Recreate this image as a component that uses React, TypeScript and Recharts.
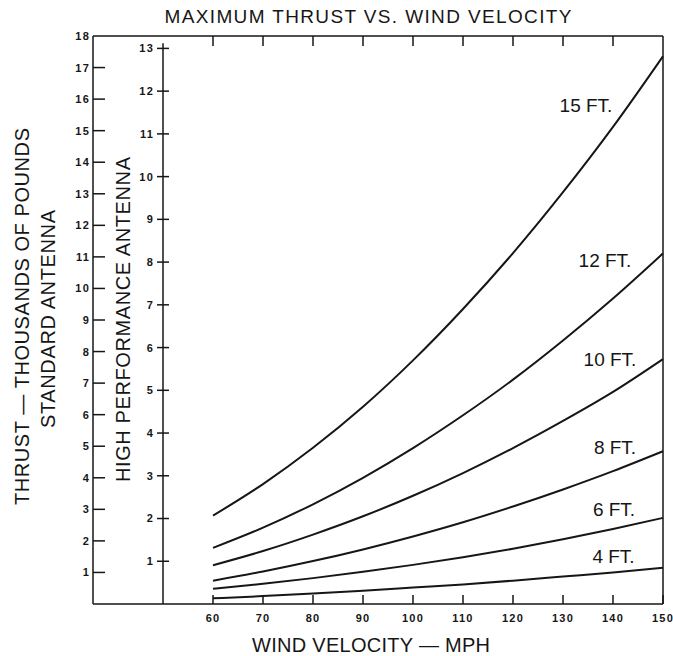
import React from 'react';
import {
  ComposedChart,
  Line,
  Scatter,
  XAxis,
  YAxis,
  ReferenceLine,
  ReferenceDot,
} from 'recharts';

// wind velocity, mph
const velocity = [60, 70, 80, 90, 100, 110, 120, 130, 140, 150];

// thrust, thousands of pounds (standard antenna scale)
const thrust15 = [2.8, 3.8, 4.95, 6.25, 7.72, 9.35, 11.12, 13.05, 15.12, 17.36];
const thrust12 = [1.78, 2.42, 3.16, 4.0, 4.94, 5.98, 7.11, 8.35, 9.68, 11.11];
const thrust10 = [1.23, 1.68, 2.2, 2.78, 3.43, 4.15, 4.94, 5.8, 6.72, 7.76];
const thrust8 = [0.74, 1.03, 1.36, 1.73, 2.14, 2.59, 3.09, 3.63, 4.21, 4.84];
const thrust6 = [0.48, 0.64, 0.82, 1.02, 1.24, 1.48, 1.75, 2.05, 2.38, 2.73];
const thrust4 = [0.18, 0.25, 0.33, 0.42, 0.52, 0.62, 0.74, 0.87, 1.0, 1.15];

const sizeKeys = ['ft15', 'ft12', 'ft10', 'ft8', 'ft6', 'ft4'];
const sizeLabels = ['15 FT.', '12 FT.', '10 FT.', '8 FT.', '6 FT.', '4 FT.'];

const velocityTicks = [60, 70, 80, 90, 100, 110, 120, 130, 140, 150];
const topTicks = [60, 70, 80, 90, 100, 110, 120, 130, 140];
const standardTicks = [0, 1, 2, 3, 4, 5, 6, 7, 8, 9, 10, 11, 12, 13, 14, 15, 16, 17, 18];
const highPerfTicks = [1, 2, 3, 4, 5, 6, 7, 8, 9, 10, 11, 12, 13];

// the high performance scale is drawn inside the frame at 50 mph
const HP_AXIS_AT = 50;
const HP_AXIS_TOP = 13.12;

const data = velocity.map((v, i) => ({
  v,
  ft15: thrust15[i],
  ft12: thrust12[i],
  ft10: thrust10[i],
  ft8: thrust8[i],
  ft6: thrust6[i],
  ft4: thrust4[i],
}));

const hpTickData = highPerfTicks.map((t) => ({ v: HP_AXIS_AT, hp: t }));
const hpLineData = [
  { v: HP_AXIS_AT, hp: 0 },
  { v: HP_AXIS_AT, hp: HP_AXIS_TOP },
];

// where the curve names sit (mph, standard-scale thrust)
const labelAnchors = [
  { v: 134.6, t: 15.8 },
  { v: 138.4, t: 10.88 },
  { v: 139.4, t: 7.75 },
  { v: 140.4, t: 4.97 },
  { v: 140.2, t: 2.99 },
  { v: 140.1, t: 1.52 },
];

const INK = '#161616';
const W = 673;
const H = 656;
const SANS = '"Liberation Sans", Arial, sans-serif';
const tickFont = {
  fontFamily: SANS,
  fontSize: 11,
  fontWeight: 700,
  fill: INK,
  letterSpacing: 1.2,
};

const BottomTick = (props: any) => {
  const { x, y, payload } = props;
  return (
    <g>
      <line x1={x} x2={x} y1={y} y2={y - 9} stroke={INK} strokeWidth={1.5} />
      <text x={x} y={y + 18} textAnchor="middle" style={tickFont}>
        {payload.value}
      </text>
    </g>
  );
};

const TopTick = (props: any) => {
  const { x, y } = props;
  return <line x1={x} x2={x} y1={y} y2={y + 10} stroke={INK} strokeWidth={1.5} />;
};

const StandardTick = (props: any) => {
  const { x, y, payload } = props;
  const v = payload.value;
  if (v === 0) return <g />;
  return (
    <g>
      {v !== 18 && <line x1={x} x2={x + 12} y1={y} y2={y} stroke={INK} strokeWidth={1.5} />}
      <text x={x - 3} y={y} dy="0.36em" textAnchor="end" style={tickFont}>
        {v}
      </text>
    </g>
  );
};

const HpTick = (props: any) => {
  const { cx, cy, payload } = props;
  return (
    <g>
      <line x1={cx - 6} x2={cx + 6} y1={cy} y2={cy} stroke={INK} strokeWidth={1.5} />
      <text x={cx - 9} y={cy} dy="0.36em" textAnchor="end" style={tickFont}>
        {payload.hp}
      </text>
    </g>
  );
};

const NoShape = () => <g />;

export default function App() {
  return (
    <div style={{ position: 'absolute', left: 0, top: 0, width: W, height: H, background: '#fff' }}>
      <ComposedChart
        width={W}
        height={H}
        data={data}
        margin={{ top: 36, right: 10, bottom: 22, left: 8 }}
      >
        <XAxis
          dataKey="v"
          type="number"
          domain={[36, 150]}
          ticks={velocityTicks}
          interval={0}
          height={30}
          tickSize={0}
          tickMargin={0}
          tickLine={false}
          tick={<BottomTick />}
          axisLine={{ stroke: INK, strokeWidth: 1.5 }}
        />
        <XAxis
          xAxisId="top"
          orientation="top"
          dataKey="v"
          type="number"
          domain={[36, 150]}
          ticks={topTicks}
          interval={0}
          mirror
          tickSize={0}
          tickMargin={0}
          tickLine={false}
          tick={<TopTick />}
          axisLine={{ stroke: INK, strokeWidth: 1.5 }}
        />
        <YAxis
          yAxisId="std"
          type="number"
          domain={[0, 18]}
          ticks={standardTicks}
          interval={0}
          width={85}
          tickSize={0}
          tickMargin={0}
          tickLine={false}
          tick={<StandardTick />}
          axisLine={{ stroke: INK, strokeWidth: 1.5 }}
        />
        <YAxis
          yAxisId="hp"
          type="number"
          domain={[0, 13.29]}
          allowDataOverflow
          width={0}
          mirror
          axisLine={false}
          tickLine={false}
          tick={false}
        />

        {/* right border */}
        <ReferenceLine yAxisId="std" x={150} stroke={INK} strokeWidth={1.5} />

        {/* high performance antenna scale */}
        <Scatter
          yAxisId="hp"
          data={hpLineData}
          dataKey="hp"
          line={{ stroke: INK, strokeWidth: 1.5 }}
          lineType="joint"
          shape={<NoShape />}
          isAnimationActive={false}
        />
        <Scatter
          yAxisId="hp"
          data={hpTickData}
          dataKey="hp"
          shape={<HpTick />}
          isAnimationActive={false}
        />

        {sizeKeys.map((k) => (
          <Line
            key={k}
            yAxisId="std"
            type="monotone"
            dataKey={k}
            stroke={INK}
            strokeWidth={2}
            dot={false}
            isAnimationActive={false}
          />
        ))}

        {sizeLabels.map((name, i) => (
          <ReferenceDot
            key={name}
            yAxisId="std"
            x={labelAnchors[i].v}
            y={labelAnchors[i].t}
            r={0}
            stroke="none"
            fill="none"
            label={{
              value: name,
              position: 'center',
              style: { fontFamily: SANS, fontSize: 19, fill: INK },
            }}
          />
        ))}
      </ComposedChart>

      <svg
        width={W}
        height={H}
        style={{ position: 'absolute', left: 0, top: 0, pointerEvents: 'none' }}
      >
        <g fontFamily={SANS} fill={INK}>
          <text x={368} y={23} fontSize={19} textAnchor="middle" textLength={407} lengthAdjust="spacing">
            MAXIMUM THRUST VS. WIND VELOCITY
          </text>
          <text x={371} y={652} fontSize={20} textAnchor="middle" textLength={238} lengthAdjust="spacing">
            WIND VELOCITY — MPH
          </text>
          <text
            transform="translate(28.5,316.5) rotate(-90)"
            fontSize={20}
            textAnchor="middle"
            textLength={377}
            lengthAdjust="spacing"
          >
            THRUST — THOUSANDS OF POUNDS
          </text>
          <text
            transform="translate(55,319) rotate(-90)"
            fontSize={20}
            textAnchor="middle"
            textLength={218}
            lengthAdjust="spacing"
          >
            STANDARD ANTENNA
          </text>
          <text
            transform="translate(130,319.5) rotate(-90)"
            fontSize={20}
            textAnchor="middle"
            textLength={325}
            lengthAdjust="spacing"
          >
            HIGH PERFORMANCE ANTENNA
          </text>
        </g>
      </svg>
    </div>
  );
}
